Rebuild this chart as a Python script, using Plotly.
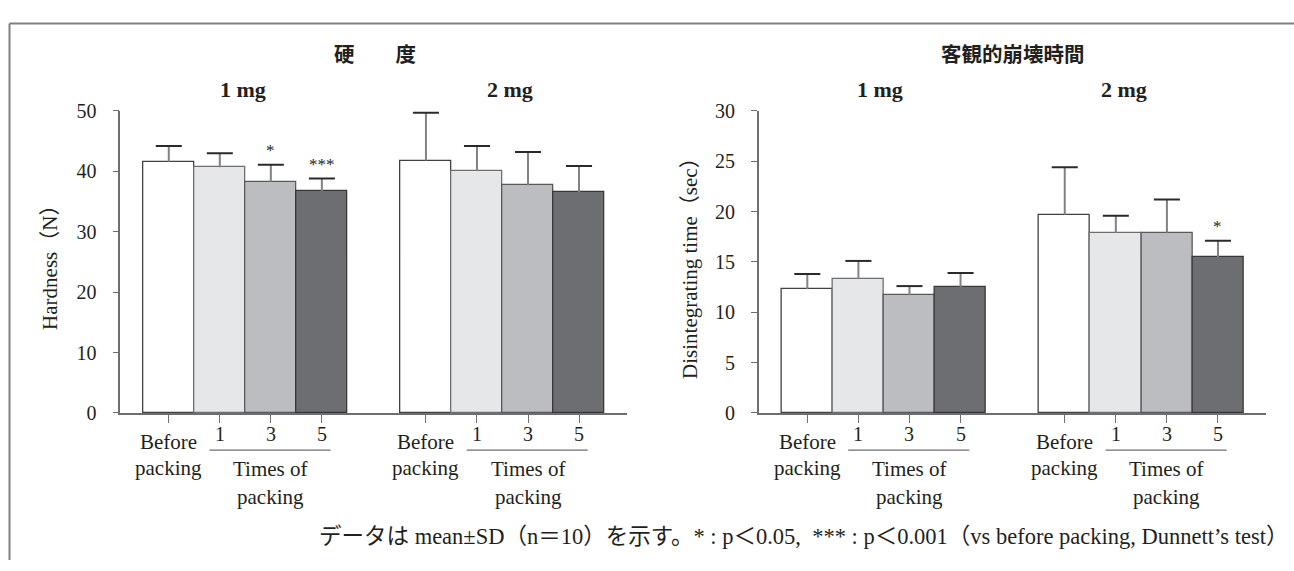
import plotly.graph_objects as go

W, H = 1294, 571

# ---------------- data ----------------
categories = ["Before packing", "1", "3", "5"]
doses = ["1 mg", "2 mg"]

hard_mean_1mg = [41.6, 40.7, 38.3, 36.7]
hard_sd_1mg = [2.6, 2.3, 2.8, 2.1]
hard_mean_2mg = [41.8, 40.1, 37.7, 36.6]
hard_sd_2mg = [7.9, 4.1, 5.5, 4.3]
hard_sig_1mg = ["", "", "*", "***"]
hard_sig_2mg = ["", "", "", ""]

dis_mean_1mg = [12.3, 13.3, 11.7, 12.5]
dis_sd_1mg = [1.5, 1.8, 0.9, 1.4]
dis_mean_2mg = [19.7, 17.9, 17.9, 15.5]
dis_sd_2mg = [4.7, 1.7, 3.3, 1.6]
dis_sig_1mg = ["", "", "", ""]
dis_sig_2mg = ["", "", "", "*"]

bar_colors = ["#ffffff", "#e6e7e8", "#bcbdc0", "#6d6e71"]
bar_edges = ["#414042", "#6d6e71", "#58595b", "#38383a"]

SERIF = "Liberation Serif, Times New Roman, serif"
CJK = "Noto Sans CJK JP"
MIX = SERIF + ", " + CJK
TXT = "#231f20"
AX = "#6d6e71"

GROUP_OFFSET = 5.04
XRANGE = [-0.95, 8.98]
CAP_HALF = 0.255


def xp(px):
    return px / W


def yp(py):
    return 1 - py / H


fig = go.Figure()

panels = [
    dict(xa="x", ya="y", means=[hard_mean_1mg, hard_mean_2mg], sds=[hard_sd_1mg, hard_sd_2mg],
         sigs=[hard_sig_1mg, hard_sig_2mg]),
    dict(xa="x2", ya="y2", means=[dis_mean_1mg, dis_mean_2mg], sds=[dis_sd_1mg, dis_sd_2mg],
         sigs=[dis_sig_1mg, dis_sig_2mg]),
]

annotations = []
for p in panels:
    for g, (m, s, sig) in enumerate(zip(p["means"], p["sds"], p["sigs"])):
        xs = [g * GROUP_OFFSET + i for i in range(len(categories))]
        fig.add_trace(go.Bar(
            x=xs, y=m, width=1, xaxis=p["xa"], yaxis=p["ya"],
            marker=dict(color=bar_colors, line=dict(color=bar_edges, width=1.3)),
            name=doses[g], showlegend=False, hoverinfo="skip",
        ))
        # one-sided SD error bars: stem (grey) + cap (dark)
        stem_x, stem_y, cap_x, cap_y = [], [], [], []
        for x, mv, sv in zip(xs, m, s):
            stem_x += [x, x, None]
            stem_y += [mv, mv + sv, None]
            cap_x += [x - CAP_HALF, x + CAP_HALF, None]
            cap_y += [mv + sv, mv + sv, None]
        fig.add_trace(go.Scatter(x=stem_x, y=stem_y, mode="lines", xaxis=p["xa"], yaxis=p["ya"],
                                 line=dict(color="#808285", width=2), showlegend=False,
                                 hoverinfo="skip"))
        fig.add_trace(go.Scatter(x=cap_x, y=cap_y, mode="lines", xaxis=p["xa"], yaxis=p["ya"],
                                 line=dict(color="#2b2a2b", width=2), showlegend=False,
                                 hoverinfo="skip"))
        for x, mv, sv, st in zip(xs, m, s, sig):
            if st:
                annotations.append(dict(
                    x=x, y=mv + sv, xref=p["xa"], yref=p["ya"], text=st, showarrow=False,
                    xanchor="center", yanchor="bottom", yshift=3,
                    font=dict(family=SERIF, size=17, color=TXT)))

# axes
common_x = dict(range=XRANGE, showline=True, linecolor=AX, linewidth=1.5, ticks="outside",
                ticklen=8, tickwidth=1.3, tickcolor=AX, showticklabels=False, showgrid=False,
                zeroline=False, fixedrange=True)
xticks = [g * GROUP_OFFSET + i for g in range(2) for i in range(len(categories))]
common_y = dict(showline=True, linecolor=AX, linewidth=1.5, ticks="outside", ticklen=6,
                tickwidth=1.3, tickcolor=AX, showgrid=False, zeroline=False,
                tickfont=dict(family=SERIF, size=20, color=TXT), ticklabelstandoff=12)

ydom = [yp(418), yp(104)]
fig.update_layout(
    xaxis=dict(domain=[xp(120.3), xp(627)], anchor="y", tickvals=xticks, **common_x),
    yaxis=dict(domain=ydom, anchor="x", range=[0, 50], tickvals=[0, 10, 20, 30, 40, 50], **common_y),
    xaxis2=dict(domain=[xp(758.8), xp(1266)], anchor="y2", tickvals=xticks, **common_x),
    yaxis2=dict(domain=ydom, anchor="x2", range=[0, 30], tickvals=[0, 5, 10, 15, 20, 25, 30], **common_y),
)


def label(x, xa, py, text, size=21):
    return dict(x=x, y=yp(py), xref=xa, yref="paper", text=text, showarrow=False,
                xanchor="center", yanchor="middle", font=dict(family=SERIF, size=size, color=TXT))


# category labels
for xa in ["x", "x2"]:
    for g in range(2):
        base = g * GROUP_OFFSET
        annotations.append(label(base, xa, 448, "Before"))
        annotations.append(label(base, xa, 475, "packing"))
        for i in range(1, len(categories)):
            annotations.append(label(base + i, xa, 440, categories[i], size=20))
        annotations.append(label(base + 2, xa, 476.5, "Times of"))
        annotations.append(label(base + 2, xa, 505, "packing"))
        fig.add_shape(type="line", xref=xa, yref="paper", x0=base + 0.8, x1=base + 3.17,
                      y0=yp(456.7), y1=yp(456.7), line=dict(color=AX, width=1.4))


def ptext(px, py, text, family, size, bold=False, angle=0):
    f = dict(family=family, size=size, color=TXT)
    if bold:
        f["weight"] = "bold"
    return dict(x=xp(px), y=yp(py), xref="paper", yref="paper", text=text, showarrow=False,
                xanchor="center", yanchor="middle", textangle=angle, font=f)


annotations += [
    ptext(374.5, 44, "硬　　度", CJK, 20.5, bold=True),
    ptext(1013, 44, "客観的崩壊時間", CJK, 20.5, bold=True),
    ptext(243, 82, "1 mg", SERIF, 22, bold=True),
    ptext(510, 82, "2 mg", SERIF, 22, bold=True),
    ptext(880, 82, "1 mg", SERIF, 22, bold=True),
    ptext(1123.5, 82, "2 mg", SERIF, 22, bold=True),
    ptext(50, 262, "Hardness（N）", MIX, 21, angle=-90),
    ptext(690, 262, "Disintegrating time（sec）", MIX, 21, angle=-90),
    ptext(803, 547,
          "データは mean±SD（n＝10）を示す。* : p＜0.05,  *** : p＜0.001（vs before packing, Dunnett’s test）",
          MIX, 22.5),
]

# outer frame (top and left edges visible)
fig.add_shape(type="line", xref="paper", yref="paper", x0=xp(9.5), x1=1, y0=yp(13), y1=yp(13),
              line=dict(color="#808080", width=2))
fig.add_shape(type="line", xref="paper", yref="paper", x0=xp(9.5), x1=xp(9.5), y0=0, y1=yp(13),
              line=dict(color="#808080", width=2))

fig.update_layout(
    width=W, height=H, margin=dict(l=0, r=0, t=0, b=0),
    paper_bgcolor="white", plot_bgcolor="white",
    annotations=annotations, bargap=0, showlegend=False,
)

fig.write_html("out.html", config={"displayModeBar": False})
